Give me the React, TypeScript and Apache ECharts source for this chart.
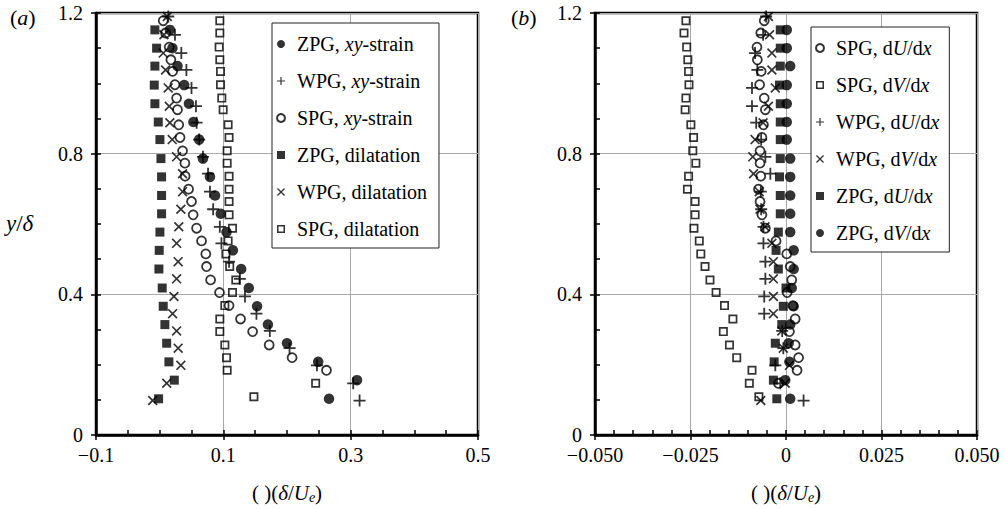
import React, { useEffect, useRef } from "react";
import * as echarts from "echarts";

const FONT = "Liberation Serif";

// ---- shared y levels (y/delta) per flow ----
const ZPG_Y = [1.152, 1.1, 1.049, 0.995, 0.942, 0.89, 0.84, 0.786, 0.734, 0.681, 0.629, 0.577, 0.525, 0.472, 0.418, 0.366, 0.314, 0.261, 0.208, 0.156, 0.103];
const WPG_Y = [1.19, 1.138, 1.086, 1.038, 0.987, 0.935, 0.888, 0.84, 0.791, 0.743, 0.692, 0.642, 0.592, 0.545, 0.493, 0.444, 0.394, 0.345, 0.296, 0.247, 0.198, 0.147, 0.098];
const SPG_Y = [1.178, 1.143, 1.103, 1.067, 1.034, 0.996, 0.958, 0.925, 0.882, 0.846, 0.808, 0.773, 0.736, 0.699, 0.664, 0.626, 0.588, 0.552, 0.515, 0.479, 0.441, 0.405, 0.368, 0.33, 0.294, 0.256, 0.22, 0.184, 0.147, 0.109];

// ---- panel (a) ----
const A_ZPG_XY = [0.016, 0.02, 0.028, 0.0385, 0.046, 0.053, 0.062, 0.068, 0.079, 0.087, 0.096, 0.105, 0.115, 0.128, 0.14, 0.153, 0.17, 0.2, 0.249, 0.31, 0.266];
const A_WPG_XY = [0.0135, 0.024, 0.034, 0.042, 0.05, 0.057, 0.058, 0.062, 0.068, 0.076, 0.079, 0.084, 0.0945, 0.097, 0.109, 0.126, 0.134, 0.152, 0.173, 0.204, 0.247, 0.304, 0.314];
const A_SPG_XY = [0.0056, 0.0093, 0.015, 0.0176, 0.0203, 0.024, 0.0266, 0.028, 0.03, 0.032, 0.036, 0.0396, 0.04, 0.0454, 0.05, 0.0526, 0.058, 0.0658, 0.0725, 0.0736, 0.08, 0.094, 0.109, 0.127, 0.146, 0.172, 0.208, 0.262];
const A_ZPG_DIL = [-0.0075, -0.0048, -0.0075, -0.0085, -0.0075, -0.0022, 0.0004, 0.002, 0.003, 0.003, 0.003, 0.0004, -0.0007, -0.0012, 0.004, 0.0056, 0.0082, 0.011, 0.0145, 0.023, -0.0017];
const A_WPG_DIL = [0.012, 0.0067, 0.0056, 0.0093, 0.0134, 0.015, 0.016, 0.0197, 0.0266, 0.036, 0.036, 0.0333, 0.03, 0.0266, 0.029, 0.0266, 0.0224, 0.0203, 0.0266, 0.029, 0.0333, 0.011, -0.011];
const A_SPG_DIL = [0.0945, 0.0945, 0.0934, 0.0945, 0.0956, 0.0956, 0.0976, 0.0997, 0.1075, 0.109, 0.106, 0.106, 0.109, 0.109, 0.109, 0.109, 0.1144, 0.1075, 0.104, 0.11, 0.1196, 0.1144, 0.1024, 0.0945, 0.0945, 0.1024, 0.105, 0.106, 0.245, 0.148];

// ---- panel (b) ----
const B_SPG_DU = [-0.0057, -0.0066, -0.0076, -0.0075, -0.0065, -0.0069, -0.0057, -0.0054, -0.0059, -0.0063, -0.0068, -0.0068, -0.0066, -0.0072, -0.0068, -0.0063, -0.0054, -0.0026, 0.0002, 0.0011, 0.0015, 0.0003, 0.0018, 0.0024, 0.0009, 0.0024, 0.0033, 0.0029, -0.002];
const B_SPG_DV = [-0.0262, -0.0267, -0.026, -0.0257, -0.0255, -0.0254, -0.0262, -0.0264, -0.0249, -0.0242, -0.0244, -0.0236, -0.0255, -0.0258, -0.0238, -0.0238, -0.0241, -0.0227, -0.0223, -0.0212, -0.0199, -0.0183, -0.0161, -0.0139, -0.0164, -0.0148, -0.0129, -0.0089, -0.0096, -0.0071];
const B_WPG_DU = [-0.0052, -0.006, -0.0081, -0.0075, -0.0089, -0.0089, -0.0078, -0.0065, -0.0054, -0.0041, -0.0066, -0.0065, -0.0059, -0.0059, -0.0054, -0.0054, -0.0057, -0.0057, -0.001, -0.0007, -0.0028, -0.0015, 0.0046];
const B_WPG_DV = [-0.0046, -0.0043, -0.0037, -0.0037, -0.0028, -0.0046, -0.006, -0.0081, -0.0087, -0.0085, -0.007, -0.0068, -0.0055, -0.0037, -0.0033, -0.0033, -0.0033, -0.0033, -0.0011, -0.0007, 0.0009, -0.0002, -0.0066];
const B_ZPG_DU = [-0.0015, -0.0015, -0.0015, -0.0017, -0.0015, -0.0015, -0.0015, -0.0015, -0.0017, -0.0015, -0.0015, -0.002, -0.0026, -0.002, 0.0, -0.0007, -0.0011, -0.0028, -0.0031, -0.0033, -0.0024];
const B_ZPG_DV = [0.0002, 0.0002, 0.0011, 0.0002, 0.0002, 0.0002, 0.0002, 0.0011, 0.0011, 0.0011, 0.0011, 0.0011, 0.002, 0.002, 0.0015, 0.002, 0.0011, 0.0007, 0.0009, -0.0002, 0.0011];

// ---- ticks ----
const Y_TICKS = [0, 0.4, 0.8, 1.2];
const Y_LABELS = ["0", "0.4", "0.8", "1.2"];
const XA_TICKS = [-0.1, 0.1, 0.3, 0.5];
const XA_LABELS = ["\u22120.1", "0.1", "0.3", "0.5"];
const XB_TICKS = [-0.05, -0.025, 0, 0.025, 0.05];
const XB_LABELS = ["\u22120.050", "\u22120.025", "0", "0.025", "0.050"];

const LEGEND_A = ["ZPG, xy-strain", "WPG, xy-strain", "SPG, xy-strain", "ZPG, dilatation", "WPG, dilatation", "SPG, dilatation"];
const LEGEND_B = ["SPG, dU/dx", "SPG, dV/dx", "WPG, dU/dx", "WPG, dV/dx", "ZPG, dU/dx", "ZPG, dV/dx"];
const LEGEND_RICH: Record<string, string> = {
  "ZPG, xy-strain": "ZPG, {i|xy}-strain",
  "WPG, xy-strain": "WPG, {i|xy}-strain",
  "SPG, xy-strain": "SPG, {i|xy}-strain",
  "ZPG, dilatation": "ZPG, dilatation",
  "WPG, dilatation": "WPG, dilatation",
  "SPG, dilatation": "SPG, dilatation",
  "SPG, dU/dx": "SPG, d{i|U}/d{i|x}",
  "SPG, dV/dx": "SPG, d{i|V}/d{i|x}",
  "WPG, dU/dx": "WPG, d{i|U}/d{i|x}",
  "WPG, dV/dx": "WPG, d{i|V}/d{i|x}",
  "ZPG, dU/dx": "ZPG, d{i|U}/d{i|x}",
  "ZPG, dV/dx": "ZPG, d{i|V}/d{i|x}",
};

const PLUS = "path://M5.1,0H6.9V5.1H12V6.9H6.9V12H5.1V6.9H0V5.1H5.1Z";
const CROSS = "path://M0,1.2L1.2,0L10,8.8L8.8,10Z M8.8,0L10,1.2L1.2,10L0,8.8Z";
const SQUARE = "path://M0,0H10V10H0Z";
const OPEN_SQUARE = "path://M0,0H10V10H0Z M1.9,1.9V8.1H8.1V1.9Z";

type Kind = "dot" | "ring" | "sq" | "osq" | "plus" | "cross";

function series(name: string, xs: number[], ys: number[], kind: Kind, axis: number) {
  const data = xs.map((x, i) => [x, ys[i]]);
  const base: any = {
    type: "scatter",
    name,
    xAxisIndex: axis,
    yAxisIndex: axis,
    data,
    silent: true,
  };
  switch (kind) {
    case "dot":
      return { ...base, symbol: "circle", symbolSize: 10.5, itemStyle: { color: "#000" } };
    case "ring":
      return { ...base, symbol: "circle", symbolSize: 9, itemStyle: { color: "rgba(255,255,255,0)", borderColor: "#000", borderWidth: 1.8 } };
    case "sq":
      return { ...base, symbol: SQUARE, symbolSize: 9, itemStyle: { color: "#000" } };
    case "osq":
      return { ...base, symbol: OPEN_SQUARE, symbolSize: 9, itemStyle: { color: "#000" } };
    case "plus":
      return { ...base, symbol: PLUS, symbolSize: 12, itemStyle: { color: "#000" } };
    case "cross":
    default:
      return { ...base, symbol: CROSS, symbolSize: 10, itemStyle: { color: "#000" } };
  }
}

function fmt(ticks: number[], labels: string[]) {
  return (v: number) => {
    const i = ticks.findIndex((t) => Math.abs(t - v) < 1e-7);
    return i >= 0 ? labels[i] : "";
  };
}

const labelStyle = { fontFamily: FONT, fontSize: 20, color: "#000" };
const axisTitle = {
  fontFamily: FONT,
  fontSize: 21,
  color: "#000",
  rich: {
    i: { fontFamily: FONT, fontSize: 21, fontStyle: "italic", color: "#000" },
    s: { fontFamily: FONT, fontSize: 14, fontStyle: "italic", color: "#000", verticalAlign: "bottom", padding: [9, 0, 0, 0] },
  },
};

function xAxes(grid: number, min: number, max: number, interval: number, minor: number, ticks: number[], labels: string[]) {
  return [
    {
      gridIndex: grid,
      type: "value",
      position: "bottom",
      min,
      max,
      interval,
      axisLine: { show: true, onZero: false, lineStyle: { color: "#000", width: 2.5 } },
      axisTick: { show: true, inside: false, length: 5, lineStyle: { color: "#000", width: 1.5 } },
      axisLabel: { ...labelStyle, margin: 10, formatter: fmt(ticks, labels) },
      splitLine: { show: true, lineStyle: { color: "#a8a8a8", width: 1 } },
      name: "( )({i|\u03b4}/{i|U}{s|e})",
      nameLocation: "middle",
      nameGap: 46,
      nameTextStyle: axisTitle,
    },
    {
      gridIndex: grid,
      type: "value",
      position: "bottom",
      min,
      max,
      interval: minor,
      axisLine: { show: false, onZero: false },
      axisTick: { show: true, inside: true, length: 5, lineStyle: { color: "#000", width: 1.5 } },
      axisLabel: { show: false },
      splitLine: { show: false },
    },
  ];
}

function yAxes(grid: number) {
  return [
    {
      gridIndex: grid,
      type: "value",
      position: "left",
      min: 0,
      max: 1.2,
      interval: 0.4,
      axisLine: { show: true, onZero: false, lineStyle: { color: "#000", width: 2.5 } },
      axisTick: { show: true, inside: false, length: 5, lineStyle: { color: "#000", width: 1.5 } },
      axisLabel: { ...labelStyle, margin: 13, formatter: fmt(Y_TICKS, Y_LABELS) },
      splitLine: { show: true, lineStyle: { color: "#a8a8a8", width: 1 } },
    },
    {
      gridIndex: grid,
      type: "value",
      position: "left",
      min: 0,
      max: 1.2,
      interval: 0.1,
      axisLine: { show: false, onZero: false },
      axisTick: { show: true, inside: true, length: 5, lineStyle: { color: "#000", width: 1.5 } },
      axisLabel: { show: false },
      splitLine: { show: false },
    },
  ];
}

function legend(names: string[], left: number, top: number, padding: number[]) {
  return {
    orient: "vertical",
    left,
    top,
    data: names,
    itemWidth: 22,
    itemHeight: 8,
    itemGap: 17,
    padding,
    backgroundColor: "#fff",
    borderColor: "#222",
    borderWidth: 1,
    borderRadius: 0,
    selectedMode: false,
    symbolKeepAspect: true,
    formatter: (n: string) => LEGEND_RICH[n] || n,
    textStyle: {
      fontFamily: FONT,
      fontSize: 20,
      color: "#000",
      lineHeight: 19,
      rich: { i: { fontFamily: FONT, fontSize: 20, fontStyle: "italic", color: "#000", lineHeight: 19 } },
    },
  };
}

export default function App() {
  const ref = useRef<HTMLDivElement>(null);
  useEffect(() => {
    if (!ref.current) return;
    const chart = echarts.init(ref.current, undefined, { renderer: "svg" });
    const option: any = {
      animation: false,
      backgroundColor: "#fff",
      textStyle: { fontFamily: FONT },
      grid: [
        { left: 96, top: 13, width: 382, height: 422, show: true, borderColor: "#000", borderWidth: 2.5, backgroundColor: "transparent" },
        { left: 595, top: 13, width: 382, height: 422, show: true, borderColor: "#000", borderWidth: 2.5, backgroundColor: "transparent" },
      ],
      xAxis: [
        ...xAxes(0, -0.1, 0.5, 0.2, 0.05, XA_TICKS, XA_LABELS),
        ...xAxes(1, -0.05, 0.05, 0.025, 0.005, XB_TICKS, XB_LABELS),
      ],
      yAxis: [...yAxes(0), ...yAxes(1)],
      legend: [legend(LEGEND_A, 272, 23, [11, 12, 9, 4]), legend(LEGEND_B, 811, 27, [11, 10, 9, 4])],
      graphic: [
        {
          type: "text",
          left: 10,
          top: 6,
          style: { text: "({i|a})", fontFamily: FONT, fontSize: 22, fill: "#000", rich: { i: { fontFamily: FONT, fontSize: 22, fontStyle: "italic", fill: "#000" } } },
        },
        {
          type: "text",
          left: 511,
          top: 6,
          style: { text: "({i|b})", fontFamily: FONT, fontSize: 22, fill: "#000", rich: { i: { fontFamily: FONT, fontSize: 22, fontStyle: "italic", fill: "#000" } } },
        },
        {
          type: "text",
          left: 6,
          top: 212,
          style: { text: "{i|y}/{i|\u03b4}", fontFamily: FONT, fontSize: 23, fill: "#000", rich: { i: { fontFamily: FONT, fontSize: 23, fontStyle: "italic", fill: "#000" } } },
        },
      ],
      series: [
        series("SPG, dilatation", A_SPG_DIL, SPG_Y, "osq", 0),
        series("SPG, xy-strain", A_SPG_XY, SPG_Y, "ring", 0),
        series("WPG, dilatation", A_WPG_DIL, WPG_Y, "cross", 0),
        series("ZPG, dilatation", A_ZPG_DIL, ZPG_Y, "sq", 0),
        series("WPG, xy-strain", A_WPG_XY, WPG_Y, "plus", 0),
        series("ZPG, xy-strain", A_ZPG_XY, ZPG_Y, "dot", 0),
        series("SPG, dV/dx", B_SPG_DV, SPG_Y, "osq", 2),
        series("SPG, dU/dx", B_SPG_DU, SPG_Y, "ring", 2),
        series("ZPG, dU/dx", B_ZPG_DU, ZPG_Y, "sq", 2),
        series("ZPG, dV/dx", B_ZPG_DV, ZPG_Y, "dot", 2),
        series("WPG, dU/dx", B_WPG_DU, WPG_Y, "plus", 2),
        series("WPG, dV/dx", B_WPG_DV, WPG_Y, "cross", 2),
      ],
    };
    chart.setOption(option);
    return () => chart.dispose();
  }, []);
  return <div ref={ref} style={{ position: "fixed", left: 0, top: 0, width: 1005, height: 509 }} />;
}
